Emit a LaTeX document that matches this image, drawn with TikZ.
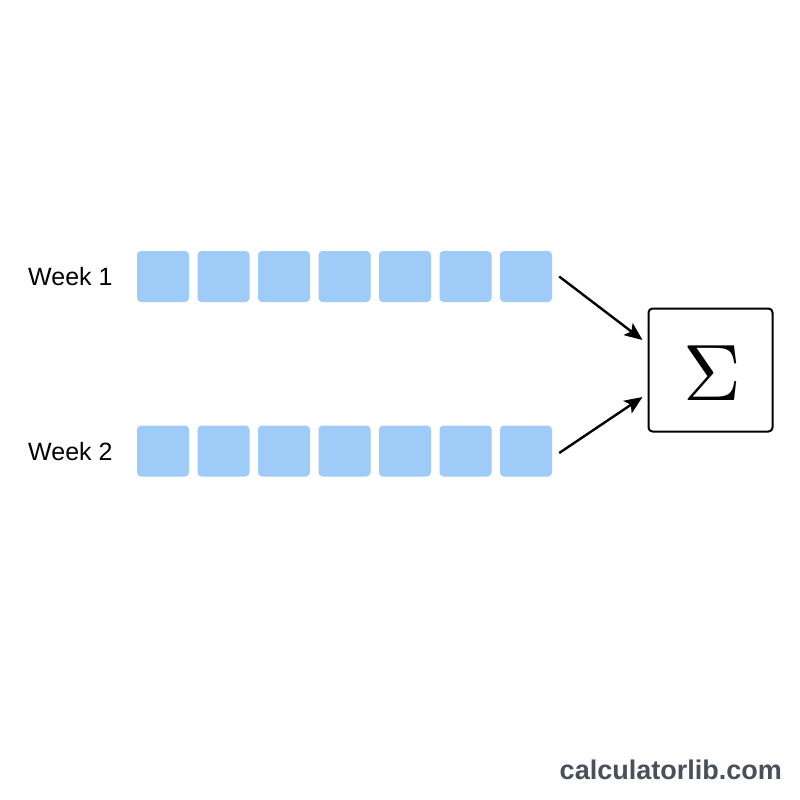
\documentclass[tikz,border=0pt]{standalone}
\usepackage{fontspec}
\setmainfont{Liberation Sans}
\usetikzlibrary{arrows.meta}
\definecolor{cell}{HTML}{9FCBF9}
\definecolor{wm}{HTML}{4A4F5A}
\tikzset{
  cellbox/.style={fill=cell, draw=none, rounded corners=4pt, minimum width=52pt, minimum height=51pt, inner sep=0pt},
  lbl/.style={font=\fontsize{25}{30}\selectfont, anchor=base west, inner sep=0pt},
  arr/.style={line width=2.4pt, -{Stealth[length=18pt,width=15pt,inset=4pt]}},
  sumbox/.style={draw=black, line width=2pt, rounded corners=4pt, minimum width=124pt, minimum height=123pt, inner sep=0pt}
}
\begin{document}
\begin{tikzpicture}[x=1pt,y=-1pt]
\fill[white] (0,0) rectangle (800,800);
\useasboundingbox (0,0) rectangle (800,800);
\node[lbl] (w1) at (28,285.5) {Week 1};
\node[lbl] (w2) at (28,460) {Week 2};
\foreach \i in {1,...,7} {
  \node[cellbox] (a\i) at ({163+60.5*(\i-1)},276.5) {};
  \node[cellbox] (b\i) at ({163+60.5*(\i-1)},451) {};
}
\node[sumbox] (S) at (710.5,370) {};
\node[scale=8.0, inner sep=0pt] (sig) at (712,373) {$\Sigma$};
\draw[arr] ([xshift=7pt]a7.east) -- ([xshift=-5pt,yshift=30pt]S.west);
\draw[arr] ([xshift=7pt,yshift=-2pt]b7.east) -- ([xshift=-5pt,yshift=-27pt]S.west);
\node[font=\bfseries\fontsize{27}{32}\selectfont, text=wm, anchor=base east, inner sep=0pt] (wmk) at (782,779) {calculatorlib.com};
\end{tikzpicture}
\end{document}
